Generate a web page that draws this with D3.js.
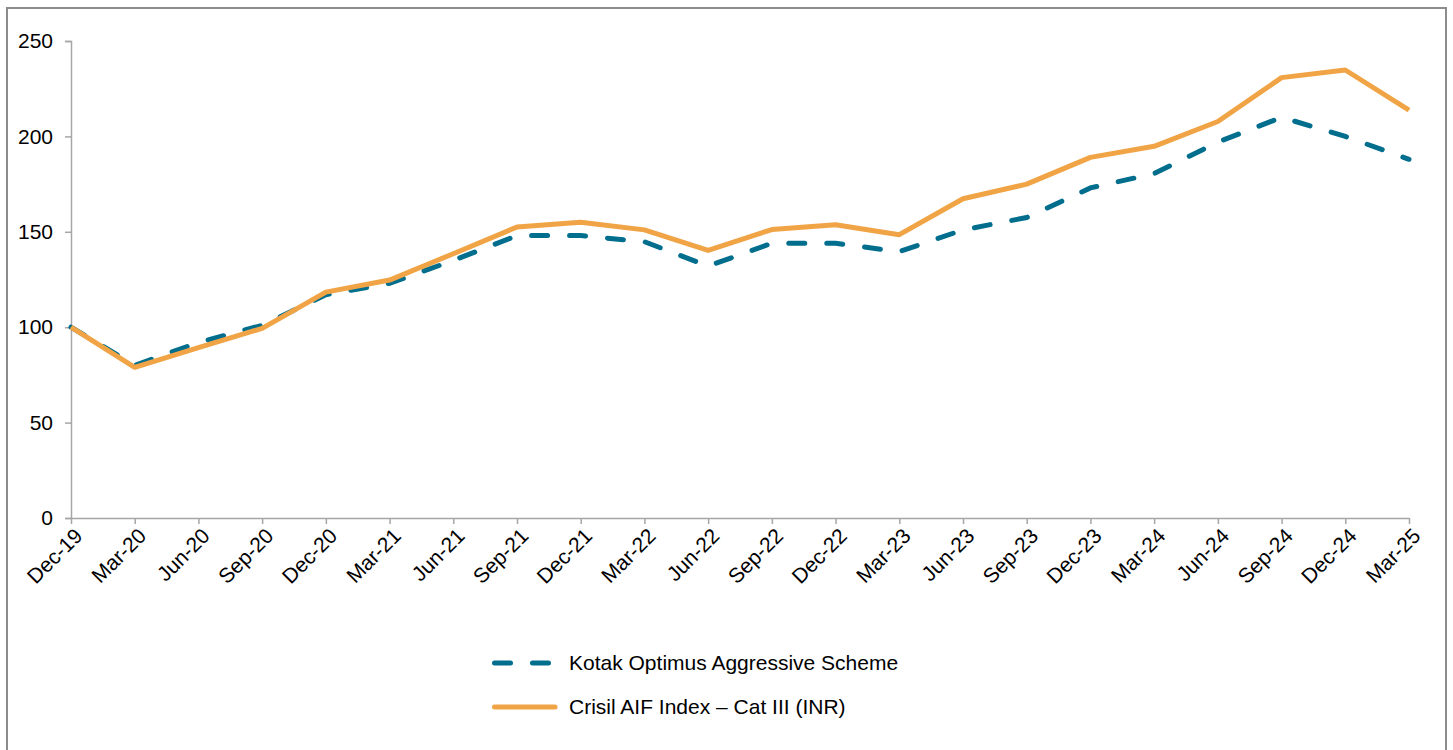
<!DOCTYPE html>
<html>
<head>
<meta charset="utf-8">
<script src="https://cdn.jsdelivr.net/npm/d3@7"></script>
<style>
  body { margin: 0; background: #fff; font-family: "Liberation Sans", Arial, sans-serif; }
  svg text { font-family: "Liberation Sans", Arial, sans-serif; }
</style>
</head>
<body>
<div id="chart"></div>
<script>
const quarters = ["Dec-19", "Mar-20", "Jun-20", "Sep-20", "Dec-20", "Mar-21", "Jun-21", "Sep-21",
  "Dec-21", "Mar-22", "Jun-22", "Sep-22", "Dec-22", "Mar-23", "Jun-23", "Sep-23", "Dec-23",
  "Mar-24", "Jun-24", "Sep-24", "Dec-24", "Mar-25"];
const kotak = [100, 80, 92, 101, 117, 123, 135, 148, 148, 144.8, 132, 144, 144, 139.6,
  151, 157.5, 173, 180.5, 197, 210, 200, 188];
const crisil = [100, 79, 89.3, 99.4, 118.4, 124.7, 138.5, 152.5, 155, 151, 140.3, 151.2, 153.7, 148.5,
  167.3, 175, 189, 194.8, 207.8, 230.8, 234.8, 213.8];
const yTicks = [0, 50, 100, 150, 200, 250];
const seriesNames = ["Kotak Optimus Aggressive Scheme", "Crisil AIF Index \u2013 Cat III (INR)"];

const width = 1453, height = 750;
const margin = { left: 71, right: 44, top: 41, bottom: 232 };
const teal = "#006e8c", orange = "#f0a445";
const fontSize = 21;

const svg = d3.select("#chart").append("svg")
  .attr("width", width)
  .attr("height", height);

// outer frame
svg.append("rect")
  .attr("x", 7).attr("y", 8)
  .attr("width", 1439).attr("height", 760)
  .attr("fill", "none")
  .attr("stroke", "#8c8c8c")
  .attr("stroke-width", 2);

const x = d3.scalePoint()
  .domain(quarters)
  .range([margin.left, width - margin.right]);

const y = d3.scaleLinear()
  .domain([0, 250])
  .range([height - margin.bottom, margin.top]);

// y axis
const yAxis = svg.append("g")
  .attr("transform", "translate(" + margin.left + ",0)")
  .call(d3.axisLeft(y).tickValues(yTicks).tickSize(6).tickPadding(12));
yAxis.select(".domain").attr("stroke", "#a6a6a6").attr("stroke-width", 1.5);
yAxis.selectAll(".tick line").attr("stroke", "#a6a6a6").attr("stroke-width", 1.5);
yAxis.selectAll("text").attr("font-size", fontSize).attr("fill", "#000");

// x axis
const xAxis = svg.append("g")
  .attr("transform", "translate(0," + (height - margin.bottom) + ")")
  .call(d3.axisBottom(x).tickSize(6).tickSizeOuter(0));
xAxis.select(".domain").attr("stroke", "#a6a6a6").attr("stroke-width", 1.5);
xAxis.selectAll(".tick line").attr("stroke", "#a6a6a6").attr("stroke-width", 1.5);
xAxis.selectAll("text")
  .attr("font-size", fontSize)
  .attr("fill", "#000")
  .attr("text-anchor", "end")
  .attr("dy", "0.35em")
  .attr("transform", "translate(7,14) rotate(-45)")
  .attr("x", 0).attr("y", 0);

const line = d3.line()
  .x(function (d, i) { return x(quarters[i]); })
  .y(function (d) { return y(d); });

svg.append("path")
  .datum(kotak)
  .attr("d", line)
  .attr("fill", "none")
  .attr("stroke", teal)
  .attr("stroke-width", 5)
  .attr("stroke-linecap", "round")
  .attr("stroke-dasharray", "16,22");

svg.append("path")
  .datum(crisil)
  .attr("d", line)
  .attr("fill", "none")
  .attr("stroke", orange)
  .attr("stroke-width", 5)
  .attr("stroke-linejoin", "round");

// legend
const legend = svg.append("g").attr("transform", "translate(492,663)");
const legendRows = [
  { name: seriesNames[0], color: teal, dash: "16,22" },
  { name: seriesNames[1], color: orange, dash: null }
];
legendRows.forEach(function (r, i) {
  const g = legend.append("g").attr("transform", "translate(0," + (i * 44) + ")");
  g.append("line")
    .attr("x1", 2.5).attr("x2", 63)
    .attr("stroke", r.color)
    .attr("stroke-width", 5)
    .attr("stroke-linecap", "round")
    .attr("stroke-dasharray", r.dash);
  g.append("text")
    .attr("x", 77).attr("dy", "0.35em")
    .attr("font-size", fontSize)
    .text(r.name);
});
</script>
</body>
</html>
